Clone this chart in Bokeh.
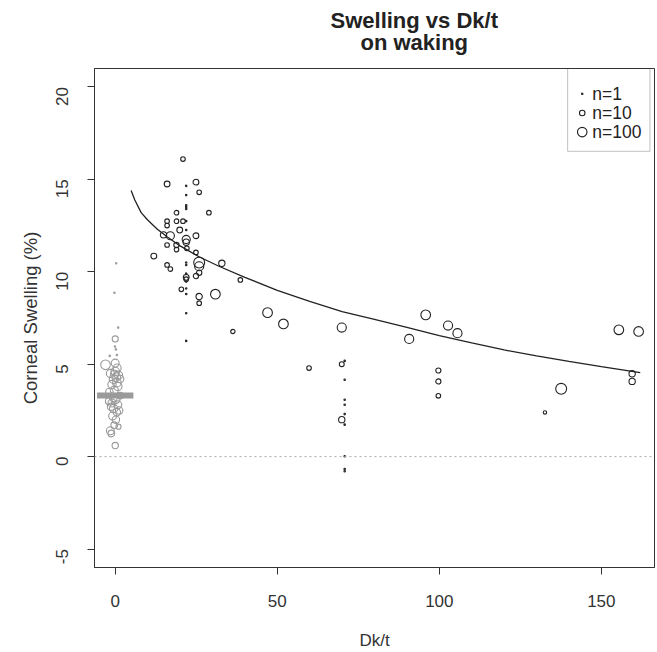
import math
from bokeh.plotting import figure
from bokeh.layouts import column
from bokeh.models import Range1d, FixedTicker, BoxAnnotation, Span, ColumnDataSource
from bokeh.core.properties import value
from bokeh.embed import file_html
from bokeh.resources import INLINE

# ---- lens-wearing studies: Dk/t, overnight swelling (%), sample size ----
dk_t = [20.9, 16.0, 24.9, 25.9, 18.9, 28.9, 16.0, 18.9, 20.9, 16.0,
        19.9, 14.9, 17.0, 21.9, 21.9, 24.9, 16.0, 18.9, 18.9, 22.1,
        24.9, 11.9, 25.9, 25.9, 32.9, 16.0, 17.0, 25.9, 21.9, 21.9,
        24.9, 38.6, 20.4, 25.9, 30.9, 25.9, 36.3, 47.0, 51.9, 69.9,
        90.7, 59.8, 69.9, 69.9, 95.8, 102.7, 105.6, 99.7, 99.7, 99.7,
        137.6, 132.6, 155.4, 161.5, 159.5, 159.5,
        21.9, 21.9, 21.9, 21.9, 21.9, 21.9, 21.9, 21.9, 21.9, 21.9,
        21.9, 21.9, 21.9, 21.9, 21.9,
        70.8, 70.8, 70.8, 70.8, 70.8, 70.8, 70.8, 70.8, 70.8]
swelling = [16.1, 14.75, 14.85, 14.3, 13.2, 13.2, 12.74, 12.74, 12.74, 12.5,
            12.26, 12.0, 11.95, 11.75, 11.6, 11.95, 11.45, 11.45, 11.2, 11.27,
            11.05, 10.85, 10.5, 10.3, 10.46, 10.37, 10.15, 9.95, 9.7, 9.6,
            9.77, 9.56, 9.05, 8.66, 8.79, 8.3, 6.77, 7.79, 7.18, 6.98,
            6.37, 4.79, 5.0, 2.0, 7.67, 7.09, 6.68, 4.66, 4.07, 3.29,
            3.67, 2.39, 6.86, 6.77, 4.48, 4.07,
            14.65, 14.15, 13.6, 13.5, 13.4, 12.74, 12.26, 10.5, 10.37, 9.9,
            9.47, 9.1, 8.8, 7.76, 6.26,
            5.18, 4.16, 3.08, 2.81, 2.3, 1.73, 0.02, -0.67, -0.79]
n_subjects = [6, 12, 12, 6, 6, 6, 6, 6, 6, 6,
              12, 16, 45, 45, 16, 12, 6, 9, 6, 6,
              6, 12, 225, 80, 16, 6, 6, 9, 12, 6,
              9, 6, 6, 16, 110, 6, 5, 110, 110, 80,
              80, 6, 7, 16, 110, 80, 80, 8, 8, 6,
              225, 3, 110, 110, 16, 16,
              1, 1, 1, 1, 1, 1, 1, 1, 1, 1,
              1, 1, 1, 1, 1,
              1, 1, 1, 1, 1, 1, 1, 1, 1]

# ---- no-lens (control) studies ----
ctrl_dk = [0.3, -0.25, 0.9, -0.1, 0.2, -1.7, 0.5, 0.0, -3.0, 0.0,
           -1.5, 0.0, 1.0, -0.5, 0.5, -1.0, 0.8, -0.3, 1.5, -1.8,
           0.2, -1.0, 0.8, -0.5, 0.5, -0.8, 0.2, -0.3, 1.0, -1.5,
           -1.2, 0.0, 1.5, -2.0, 0.3, -0.6, 1.2, -1.3, 0.6, -0.2]
ctrl_sw = [10.46, 8.87, 6.98, 5.96, 5.8, 5.45, 5.5, 6.37, 4.97, 5.06,
           4.5, 4.6, 4.4, 4.2, 4.0, 3.9, 3.8, 3.6, 4.2, 3.5,
           3.1, 2.9, 2.8, 2.6, 2.4, 2.2, 2.0, 1.7, 1.62, 1.4,
           1.25, 0.6, 3.3, 3.0, 4.3, 3.2, 2.5, 2.7, 4.8, 4.45]
ctrl_n = [1, 1, 1, 1, 1, 1, 1, 14, 110, 40,
          45, 60, 50, 70, 60, 50, 50, 45, 30, 30,
          50, 45, 40, 50, 30, 40, 30, 20, 8, 40,
          20, 16, 20, 20, 60, 45, 30, 30, 40, 50]
ctrl_mean_dk = 0.0
ctrl_mean_sw = 3.3

# ---- fitted curve ----
curve_dk = [4.9, 6, 8, 10, 13, 16, 20, 26, 32, 40, 50, 60, 70, 80, 90,
            100, 110, 120, 130, 140, 150, 160, 162]
curve_sw = [14.4, 13.9, 13.2, 12.8, 12.3, 11.9, 11.4, 10.8, 10.3, 9.7, 9.0,
            8.4, 7.85, 7.42, 6.99, 6.55, 6.15, 5.77, 5.45, 5.15, 4.87, 4.6, 4.55]

legend_n = [1, 10, 100]
legend_labels = ["n=1", "n=10", "n=100"]

x_ticks = [0, 50, 100, 150]
y_ticks = [-5, 0, 5, 10, 15, 20]

title_lines = ["Swelling vs Dk/t", "on waking"]

FONT = "Liberation Sans"
INK = "#222222"
GREY = "#9a9a9a"

W = 655
TITLE_H = 68
PLOT_H = 584
B_LEFT, B_RIGHT, B_BOTTOM = 94, 1, 84
FRAME_W = W - B_LEFT - B_RIGHT


def msize(n):
    return 1.5 + 4.0 * math.log10(n)


# ---- title strip (its own small canvas, pixel coordinates) ----
t = figure(width=W, height=TITLE_H, output_backend="svg", toolbar_location=None,
           x_range=Range1d(0, W), y_range=Range1d(0, TITLE_H),
           x_axis_type=None, y_axis_type=None, min_border=0)
t.xgrid.visible = False
t.ygrid.visible = False
t.outline_line_color = None
t.background_fill_color = "white"
t.border_fill_color = "white"
t.text(x=[B_LEFT + FRAME_W / 2] * 2, y=[TITLE_H - 20, TITLE_H - 42],
       text=title_lines, text_align="center", text_baseline="middle",
       text_font=value(FONT), text_font_size="22px",
       text_font_style="bold", text_color="#222222")

# ---- main plot ----
p = figure(width=W, height=PLOT_H, output_backend="svg", toolbar_location=None,
           x_range=Range1d(-6.4, 166.4), y_range=Range1d(-6, 21),
           min_border_left=B_LEFT, min_border_right=B_RIGHT,
           min_border_top=0, min_border_bottom=B_BOTTOM)
p.background_fill_color = "white"
p.border_fill_color = "white"
p.xgrid.visible = False
p.ygrid.visible = False
p.outline_line_color = "#333333"
p.outline_line_width = 1

# zero reference line
p.add_layout(Span(location=0, dimension="width", line_color="#aaaaaa",
                  line_dash="2 3", line_width=1))

main = ColumnDataSource(dict(x=dk_t, y=swelling,
                             s=[msize(n) for n in n_subjects]))
ctrl = ColumnDataSource(dict(x=ctrl_dk, y=ctrl_sw,
                             s=[msize(n) for n in ctrl_n]))

p.scatter("x", "y", size="s", source=ctrl, marker="circle",
          fill_color=None, line_color=GREY, line_width=1.1)
p.segment(x0=[ctrl_mean_dk - 5.6], x1=[ctrl_mean_dk + 5.6],
          y0=[ctrl_mean_sw], y1=[ctrl_mean_sw],
          line_color=GREY, line_width=6)
p.scatter("x", "y", size="s", source=main, marker="circle",
          fill_color=None, line_color=INK, line_width=1.1)
p.line(curve_dk, curve_sw, line_color=INK, line_width=1.3)

# legend (top right)
x_lo, x_hi = p.x_range.start, p.x_range.end
y_lo, y_hi = p.y_range.start, p.y_range.end
leg_left = x_hi - 26.8
leg_bottom = y_hi - 4.48
p.add_layout(BoxAnnotation(left=leg_left, right=x_hi - 1.4, top=y_hi,
                           bottom=leg_bottom, fill_color=None,
                           line_color="#333333", line_width=1))
leg_y = [y_hi - 1.37 - 1.035 * i for i in range(len(legend_n))]
p.scatter(x=[leg_left + 4.5] * 3, y=leg_y, size=[msize(n) for n in legend_n],
          marker="circle", fill_color=None, line_color=INK, line_width=1.1)
p.text(x=[leg_left + 7.6] * 3, y=leg_y, text=legend_labels,
       text_baseline="middle", text_align="left",
       text_font=value(FONT), text_font_size="17.5px", text_color=INK)

# axes
p.xaxis.ticker = FixedTicker(ticks=x_ticks)
p.yaxis.ticker = FixedTicker(ticks=y_ticks)
p.yaxis.major_label_overrides = {tk: str(tk) for tk in y_ticks}
p.xaxis.axis_label = "Dk/t"
p.yaxis.axis_label = "Corneal Swelling (%)"
for ax in (p.xaxis[0], p.yaxis[0]):
    ax.major_tick_out = 7
    ax.major_tick_in = 0
    ax.minor_tick_out = 0
    ax.minor_tick_in = 0
    ax.axis_line_color = "#333333"
    ax.major_tick_line_color = "#333333"
    ax.major_label_text_font = FONT
    ax.major_label_text_font_size = "17px"
    ax.major_label_text_color = "#333333"
    ax.axis_label_text_font = FONT
    ax.axis_label_text_font_size = "17px"
    ax.axis_label_text_font_style = "normal"
    ax.axis_label_text_color = "#333333"
p.yaxis.axis_label_text_font_size = "18.5px"
p.xaxis.major_label_standoff = 20
p.xaxis.axis_label_standoff = 21
p.yaxis.major_label_standoff = 25
p.yaxis.axis_label_standoff = 7
p.yaxis.major_label_orientation = math.pi / 2

layout = column(t, p, spacing=0)
open("out.html", "w").write(file_html(layout, INLINE))
